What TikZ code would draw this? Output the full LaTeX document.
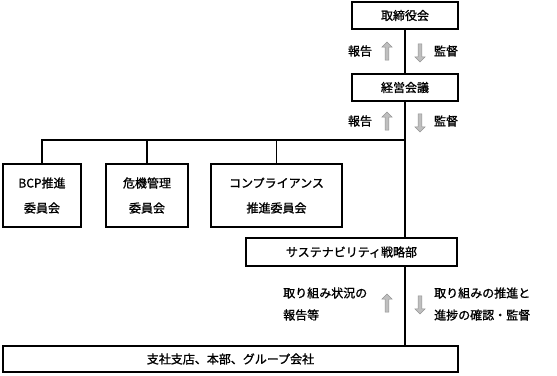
\documentclass[tikz,border=0pt]{standalone}
\usepackage{fontspec}
\newfontfamily\jpfont[FakeBold=1.2]{Noto Sans CJK JP}
\usetikzlibrary{shapes.arrows}

\begin{document}
\begin{tikzpicture}[
    x=1pt, y=-1pt,
    font=\jpfont\fontsize{12}{25}\selectfont,
    unit/.style={draw, line width=1.3pt, align=center, inner sep=0pt},
    memo/.style={align=left, inner sep=0pt, font=\jpfont\fontsize{12}{22}\selectfont},
    uparr/.style={single arrow, draw=gray!85, fill=gray!50, line width=0.6pt,
                  minimum height=18pt, minimum width=10pt, single arrow head extend=2.5pt,
                  inner sep=1.2pt, shape border rotate=90},
    dnarr/.style={uparr, shape border rotate=270},
    link/.style={line width=1.3pt},
  ]
    \useasboundingbox (0,0) rectangle (557,375);

    % --- top of the chain ---
    \node[unit, minimum width=106pt, minimum height=27pt] (board) at (405,15.5) {取締役会};
    \node[unit, minimum width=106pt, minimum height=27pt] (exec) at (405,87.5) {経営会議};

    % --- committees ---
    \node[unit, minimum width=78pt, minimum height=63pt] (bcp) at (42,195.5) {BCP推進\\委員会};
    \node[unit, minimum width=82pt, minimum height=63pt] (crisis) at (147,195.5) {危機管理\\委員会};
    \node[unit, minimum width=131pt, minimum height=63pt] (comp) at (276.5,195.5) {コンプライアンス\\推進委員会};

    % --- sustainability dept and group ---
    \node[unit, minimum width=211pt, minimum height=28pt] (strat) at (351.5,252) {サステナビリティ戦略部};
    \node[unit, minimum width=455pt, minimum height=26pt] (group) at (230.5,359) {支社支店、本部、グループ会社};

    % --- connectors ---
    \coordinate (hub) at (exec.south |- 0,140);
    \draw[link] (board) -- (exec);
    \draw[link] (exec.south) -- (exec.south |- strat.north);
    \draw[link] (exec.south |- strat.south) -- (exec.south |- group.north);
    \draw[link] (hub) -| (bcp.north);
    \draw[link] (hub) -| (crisis.north);
    \draw[link] (hub) -| (comp.north);

    % --- report / supervise marks ---
    \node[memo] (rep1) at (360,51) {報告};
    \node[uparr] (up1) at (387,52) {};
    \node[dnarr] (dn1) at (420,52) {};
    \node[memo] (sup1) at (446,51) {監督};

    \node[memo] (rep2) at (360,121) {報告};
    \node[uparr] (up2) at (387,122) {};
    \node[dnarr] (dn2) at (420,122) {};
    \node[memo] (sup2) at (446,121) {監督};

    \node[memo, anchor=west] (rep3) at (283,304) {取り組み状況の\\報告等};
    \node[uparr] (up3) at (387,304) {};
    \node[dnarr] (dn3) at (420,304) {};
    \node[memo, anchor=west] (sup3) at (434,304) {取り組みの推進と\\進捗の確認・監督};
\end{tikzpicture}
\end{document}
